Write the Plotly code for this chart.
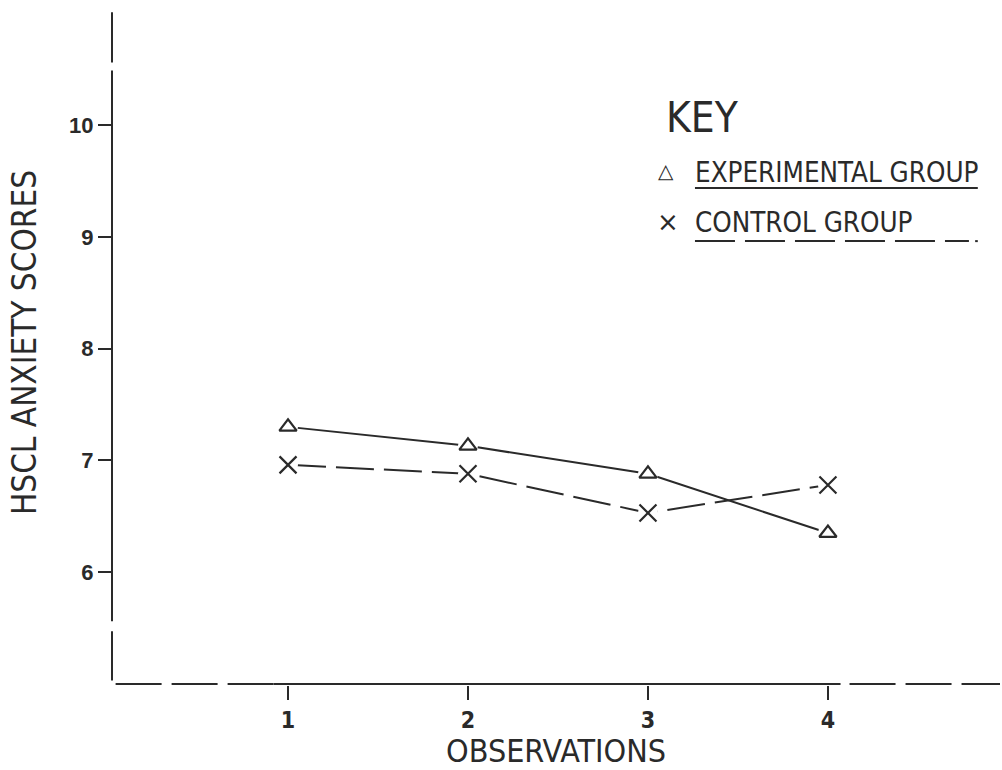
import plotly.graph_objects as go

observations = [1, 2, 3, 4]
experimental = [7.30, 7.13, 6.88, 6.35]
control = [6.96, 6.88, 6.53, 6.78]
x_ticks = [1, 2, 3, 4]
y_ticks = [6, 7, 8, 9, 10]

NARROW = "Liberation Sans Narrow, DejaVu Sans Condensed, Arial Narrow, sans-serif"
INK = "#2a2a2a"

XMIN, XMAX = 0.022, 4.956
YMIN, YMAX = 4.99, 11.12

fig = go.Figure()

# lines
fig.add_trace(go.Scatter(x=observations, y=experimental, mode="lines",
                         line=dict(color=INK, width=2), showlegend=False, hoverinfo="skip"))
fig.add_trace(go.Scatter(x=observations, y=control, mode="lines",
                         line=dict(color=INK, width=2, dash="38px,10px"), showlegend=False, hoverinfo="skip"))
# white masks around markers for gap effect
for ys in (experimental, control):
    fig.add_trace(go.Scatter(x=observations, y=ys, mode="markers",
                             marker=dict(symbol="circle", size=20, color="white", line=dict(width=0)),
                             showlegend=False, hoverinfo="skip"))
# markers
fig.add_trace(go.Scatter(x=observations, y=experimental, mode="markers", name="EXPERIMENTAL GROUP",
                         marker=dict(symbol="triangle-up-open", size=15, color=INK, line=dict(width=2.2, color=INK)),
                         showlegend=False))
fig.add_trace(go.Scatter(x=observations, y=control, mode="markers", name="CONTROL GROUP",
                         marker=dict(symbol="x-thin-open", size=17, color=INK, line=dict(width=2.2, color=INK)),
                         showlegend=False))

shapes = []
# y axis (with breaks)
for y0, y1 in [(11.01, 10.56), (10.49, 5.56), (5.47, 5.03)]:
    shapes.append(dict(type="line", xref="paper", yref="y", x0=0, x1=0, y0=y0, y1=y1,
                       line=dict(color=INK, width=2)))
# x axis
shapes.append(dict(type="line", xref="x", yref="y", x0=XMIN + 0.02, x1=0.92, y0=5.0, y1=5.0,
                   line=dict(color=INK, width=2, dash="46px,10px")))
shapes.append(dict(type="line", xref="x", yref="y", x0=0.92, x1=4.07, y0=5.0, y1=5.0,
                   line=dict(color=INK, width=2)))
shapes.append(dict(type="line", xref="x", yref="y", x0=4.12, x1=XMAX, y0=5.0, y1=5.0,
                   line=dict(color=INK, width=2, dash="46px,10px")))
# key underlines
shapes.append(dict(type="line", xref="paper", yref="paper", x0=0.6565, x1=0.975, y0=0.7255, y1=0.7255,
                   line=dict(color=INK, width=2)))
shapes.append(dict(type="line", xref="paper", yref="paper", x0=0.6565, x1=0.965, y0=0.648, y1=0.648,
                   line=dict(color=INK, width=2, dash="40px,10px")))
shapes.append(dict(type="line", xref="paper", yref="paper", x0=0.972, x1=0.975, y0=0.648, y1=0.648,
                   line=dict(color=INK, width=2)))

annotations = [
    dict(text="KEY", xref="paper", yref="paper", x=0.622, y=0.828, xanchor="left", yanchor="middle",
         showarrow=False, font=dict(family=NARROW, size=42, color=INK)),
    dict(text="EXPERIMENTAL GROUP", xref="paper", yref="paper", x=0.654, y=0.749, xanchor="left", yanchor="middle",
         showarrow=False, font=dict(family=NARROW, size=27.5, color=INK)),
    dict(text="CONTROL GROUP", xref="paper", yref="paper", x=0.654, y=0.676, xanchor="left", yanchor="middle",
         showarrow=False, font=dict(family=NARROW, size=27.5, color=INK)),
    dict(text="\u25b3", xref="paper", yref="paper", x=0.624, y=0.750, xanchor="center", yanchor="middle",
         showarrow=False, font=dict(family="DejaVu Sans", size=20, color=INK)),
    dict(text="\u00d7", xref="paper", yref="paper", x=0.626, y=0.676, xanchor="center", yanchor="middle",
         showarrow=False, font=dict(family="DejaVu Sans", size=26, color=INK)),
]

fig.update_layout(
    width=1002, height=770,
    margin=dict(l=112, r=2, t=0, b=85),
    paper_bgcolor="white", plot_bgcolor="white",
    shapes=shapes, annotations=annotations,
    showlegend=False,
    xaxis=dict(range=[XMIN, XMAX], tickvals=x_ticks, ticktext=[str(v) for v in x_ticks],
               showgrid=False, zeroline=False, showline=False,
               ticks="outside", ticklen=14, tickwidth=2, tickcolor=INK,
               tickfont=dict(family=NARROW, size=23, color=INK, weight="bold"),
               title=dict(text="OBSERVATIONS", font=dict(family=NARROW, size=32, color=INK), standoff=0)),
    yaxis=dict(range=[YMIN, YMAX], tickvals=y_ticks, ticktext=[str(v) for v in y_ticks],
               showgrid=False, zeroline=False, showline=False,
               ticks="outside", ticklen=13, tickwidth=2, tickcolor=INK,
               tickfont=dict(family="Liberation Sans", size=22, color=INK, weight="bold"),
               title=dict(text="HSCL ANXIETY SCORES", font=dict(family=NARROW, size=33, color=INK), standoff=22)),
)

fig.write_html("out.html")
